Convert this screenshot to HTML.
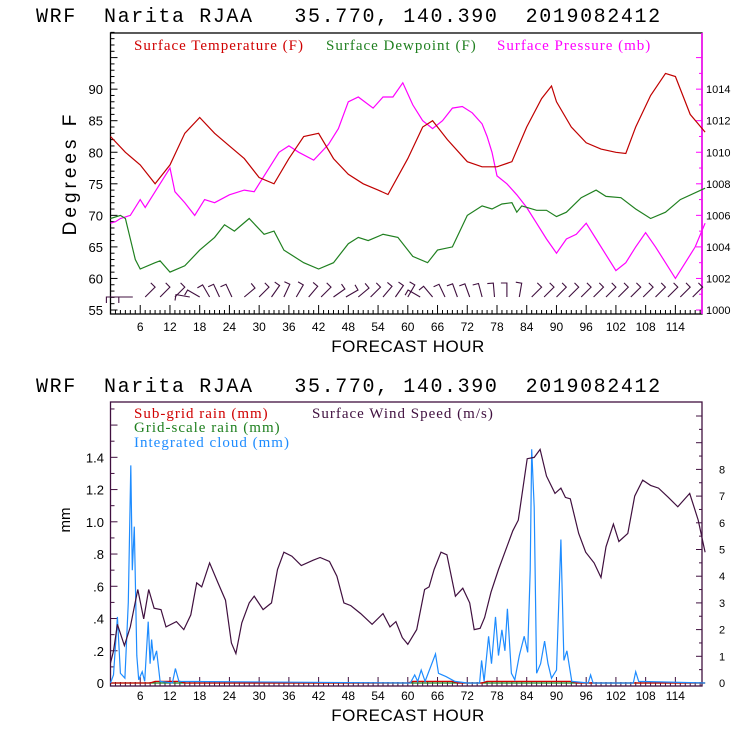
<!DOCTYPE html>
<html><head><meta charset="utf-8"><style>
html,body{margin:0;padding:0;background:#fff;}
svg{display:block;}
text{font-family:"Liberation Sans",sans-serif;}
.ttl{font-family:"Liberation Mono",monospace;white-space:pre;}
.leg{font-family:"Liberation Serif",serif;font-size:15px;letter-spacing:1px;}
</style></head><body>
<svg id="c" width="740" height="740" viewBox="0 0 740 740" xmlns="http://www.w3.org/2000/svg">
<rect width="740" height="740" fill="#fff"/>
<g id="top"></g>
<g id="bot"></g>
</svg>
<script>
// ---- data (top) ----
const tempHours=[0,3,6,9,12,15,18,21,24,27,30,33,36,39,42,45,48,51,54,56,60,63,65,68,72,75,78,81,84,87,89,90,93,96,99,102,104,106,109,112,114,117,120];
const tempVals=[82.5,80,78,75,78,83,85.5,83,81,79,76,75,79,82.5,83,79,76.5,75,74,73.3,79,84,85,82,78.5,77.7,77.7,78.5,84,88.5,90.5,88,84,81.5,80.5,80,79.8,84,89,92.5,92,86,83.2];
const dewHours=[0,2,3,5,6,9,10,12,15,18,21,23,25,28,31,33,35,39,42,45,48,50,52,55,58,61,64,66,69,72,75,77,79,81,82,83,86,88,90,92,95,98,100,103,106,109,112,115,120];
const dewVals=[69.5,70,69.5,63,61.5,62.5,62.8,61,62,64.5,66.5,68.5,67.5,69.5,67,67.5,64.5,62.5,61.5,62.5,65.5,66.5,66,67,66.5,63.5,62.5,64.5,65,70,71.5,71,71.8,72,70.5,71.5,70.8,70.8,69.8,70.5,72.8,74,73,72.8,71,69.5,70.5,72.5,74.3];
const presHours=[0,1,2,4,6,7,9,11,12,13,15,17,19,21,24,27,29,31,34,36,38,41,44,46,48,50,53,55,57,59,61,63,65,67,69,71,73,75,76,77,78,80,82,84,86,88,90,92,94,96,98,100,102,104,106,108,110,112,114,116,118,120];
const presVals=[1005.5,1005.6,1005.8,1006,1007,1006.5,1007.5,1008.5,1009,1007.5,1006.8,1006,1007,1006.8,1007.3,1007.6,1007.5,1008.5,1010,1010.4,1010,1009.5,1010.5,1011.5,1013.2,1013.5,1012.8,1013.5,1013.5,1014.4,1013,1012,1011.5,1012,1012.8,1012.9,1012.5,1011.8,1011,1010,1008.5,1008,1007.3,1006.5,1005.5,1004.5,1003.6,1004.5,1004.8,1005.5,1004.5,1003.5,1002.5,1003,1004,1004.9,1004,1003,1002,1003,1004,1005.5];
const barbHours=[2,4.5,7,10,13,16,18,20,22,24.5,27,30,32.5,35,37.5,40,42.5,45,47.5,50,52.5,55,57.5,60,62.5,65,67.5,70,72.5,75,77.5,80,82.5,85,87.5,90,92.5,95,97.5,100,102.5,105,107.5,110,112.5,115,117.5];
const barbDir=[270,270,45,45,45,280,300,330,335,335,50,45,35,25,30,40,45,55,60,50,45,40,35,30,300,320,335,340,340,345,355,0,10,45,45,45,45,45,45,45,45,45,45,45,45,45,45];
const degTicks=[55,60,65,70,75,80,85,90];
const presTicks=[1000,1002,1004,1006,1008,1010,1012,1014];
const hourTicks=[6,12,18,24,30,36,42,48,54,60,66,72,78,84,90,96,102,108,114];
// ---- data (bottom) ----
const windHours=[0,0.6,1.4,2.8,4,5.5,6.7,7.7,8.8,10.2,11.2,13.3,14.8,16.2,17.4,18.4,20,21.7,23.2,24.4,25.3,26.5,28,29,30.8,32.5,33.7,35,36.6,38.5,40.9,42.3,44.2,45.7,47.1,48.5,50.5,52.8,55,56.4,57.6,58.9,60,61.8,63.4,64.3,65.3,66.7,67.9,69.6,71.1,72.5,73.4,74.6,75.5,76.8,78.3,79.7,81.2,82.3,84.1,85.5,86.7,88,89.7,90.9,91.8,92.8,94.5,95.9,97.6,99,100,101.5,102.6,104.4,105.8,107.4,109,110.6,112.6,114.5,116.9,118.6,120];
const windVals=[0.75,1.2,2.2,1.4,2.1,3.5,2.4,3.5,2.8,2.75,2.1,2.3,2.0,2.55,3.75,3.6,4.5,3.75,3.1,1.5,1.1,2.25,3,3.25,2.75,3,4.25,4.9,4.75,4.4,4.6,4.7,4.55,4,3,2.9,2.6,2.2,2.6,2.1,2.3,1.7,1.45,2,3.5,3.6,4.25,4.9,4.8,3.25,3.55,3,2,2.05,2.45,3.4,4.25,4.95,5.7,6.1,8.4,8.45,8.75,7.75,7.1,7.3,6.95,6.9,5.6,4.9,4.5,3.95,5.1,5.95,5.3,5.6,7,7.6,7.4,7.3,6.95,6.6,7.1,6.1,4.9];
const cloudHours=[0,0.6,1.4,2,2.9,3.6,4.1,4.4,4.8,5.3,5.7,6.4,6.9,7.6,8,8.3,8.7,9.3,10,12.5,13.1,13.8,60.5,61.4,62,62.7,63.5,65.6,66.2,67.7,69.5,72,74.5,74.9,75.4,76.3,76.9,77.7,78.3,79,79.6,80.1,80.9,81.6,82.5,83.5,84.2,84.7,85,85.5,86,86.8,87.6,88.3,89,90,90.9,91.5,92.1,93.1,96.4,96.9,97.4,105.5,106,106.6,120];
const cloudVals=[0,0.05,0.41,0.06,0.03,0.5,1.35,0.7,0.97,0.17,0.02,0.07,0.01,0.38,0.12,0.27,0.14,0.2,0.01,0,0.09,0.01,0,0.05,0.01,0.08,0.01,0.18,0.06,0.04,0.01,0,0,0.14,0.01,0.29,0.12,0.41,0.17,0.33,0.2,0.46,0.06,0.02,0.17,0.29,0.19,0.7,1.45,1.09,0.06,0.12,0.26,0.12,0.03,0.08,0.89,0.14,0.2,0.01,0,0.05,0,0,0.07,0.01,0];
const subHours=[0,8,9,14,15,60,61,69,70,75,76,93,94,120];
const subVals=[0,0,0.01,0.01,0,0,0.01,0.01,0,0,0.01,0.01,0,0];
const mmTicks=[0,0.2,0.4,0.6,0.8,1.0,1.2,1.4];
const mmLabels=["0",".2",".4",".6",".8","1.0","1.2","1.4"];
const windTicks=[0,1,2,3,4,5,6,7,8];

const NS='http://www.w3.org/2000/svg';
function mk(parent,tag,attrs){const e=document.createElementNS(NS,tag);for(const k in attrs)e.setAttribute(k,attrs[k]);parent.appendChild(e);return e;}
const L=110.5,R=702,PX=4.955;
const xh=h=>L+PX*h;
const TT=33,TB=314;
const yDeg=d=>310-(d-55)*6.31;
const yPres=p=>yDeg(55+(p-1000)*2.5);
const BT=402,BB=686;
const yMM=m=>683-m*161.2;
const yWind=w=>683-w*26.7;

function txt(parent,x,y,s,attrs){const t=mk(parent,'text',Object.assign({x:x,y:y},attrs||{}));t.textContent=s;return t;}
function line(parent,x1,y1,x2,y2,stroke,w){return mk(parent,'line',{x1:x1,y1:y1,x2:x2,y2:y2,stroke:stroke,'stroke-width':w||1});}
function path(parent,hs,vs,fy,color,name){
  let d='';for(let i=0;i<hs.length;i++){d+=(i?'L':'M')+xh(hs[i]).toFixed(1)+' '+fy(vs[i]).toFixed(1);}
  const p=mk(parent,'path',{d:d,fill:'none',stroke:color,'stroke-width':1.2});
  
  
  return p;
}
const titleStr="WRF  Narita RJAA   35.770, 140.390  2019082412";

// ===== TOP =====
const topG=document.getElementById('top');
let t=txt(topG,36,22,titleStr,{'font-size':20,'class':'ttl','letter-spacing':'1.6'});

mk(topG,'rect',{x:L,y:TT,width:R-L,height:TB-TT,fill:'none',stroke:'#000','stroke-width':1.3});
line(topG,R,TT,R,TB,'#f0f',1.5);
for(let d=55;d<=99;d++){const y=yDeg(d);line(topG,L,y,L+(d%5==0?7:4),y,'#000',1);}
degTicks.forEach(d=>{const e=txt(topG,103,yDeg(d)+5,String(d),{'font-size':13,'text-anchor':'end'});});
for(let p=1000;p<=1016;p+=1){const y=yPres(p);if(y<TT)break;line(topG,R,y,R-(p%2==0?6:3),y,'#f0f',1);}
presTicks.forEach(p=>{const e=txt(topG,706,yPres(p)+4,String(p),{'font-size':11,fill:'#000'});});
for(let h=1;h<120;h++){line(topG,xh(h),TB,xh(h),TB-(h%6==0?9:4),'#000',1);}
hourTicks.forEach(h=>{const e=txt(topG,xh(h),331,String(h),{'font-size':12,'text-anchor':'middle'});});
t=txt(topG,408,352,'FORECAST HOUR',{'font-size':17,'text-anchor':'middle','letter-spacing':'0.5'});
t=txt(topG,0,0,'Degrees F',{'font-size':19,'text-anchor':'middle','letter-spacing':'4',transform:'translate(76,173) rotate(-90)'});
t=txt(topG,134,50,'Surface Temperature (F)',{'class':'leg',fill:'#d00000'});
t=txt(topG,326,50,'Surface Dewpoint (F)',{'class':'leg',fill:'#208020'});
t=txt(topG,497,50,'Surface Pressure (mb)',{'class':'leg',fill:'#f0f'});
path(topG,presHours,presVals,yPres,'#f0f','pressure-line');
path(topG,tempHours,tempVals,yDeg,'#c00000','temperature-line');
path(topG,dewHours,dewVals,yDeg,'#208020','dewpoint-line');
const bg=mk(topG,'g',{});

barbHours.forEach((h,i)=>{
  const a=barbDir[i]*Math.PI/180, x0=xh(h), y0=297;
  const dx=Math.sin(a), dy=-Math.cos(a), len=14;
  const x1=x0+dx*len, y1=y0+dy*len;
  const b=mk(bg,'path',{d:`M${x0.toFixed(1)} ${y0} L${x1.toFixed(1)} ${y1.toFixed(1)} L${(x1+dy*6).toFixed(1)} ${(y1-dx*6).toFixed(1)}`,fill:'none',stroke:'#40103f','stroke-width':1.1});
  
  
});

// ===== BOTTOM =====
const botG=document.getElementById('bot');
t=txt(botG,36,392,titleStr,{'font-size':20,'class':'ttl','letter-spacing':'1.6'});

mk(botG,'rect',{x:L,y:BT,width:R-L,height:BB-BT,fill:'none',stroke:'#40103f','stroke-width':1.3});
for(let i=0;i<=17;i++){const y=yMM(i/10);if(y<BT)break;line(botG,L,y,L+(i%2==0?7:4),y,'#40103f',1);}
mmTicks.forEach((m,i)=>{const e=txt(botG,104,yMM(m)+5,mmLabels[i],{'font-size':13,'text-anchor':'end'});});
for(let w=0;w<=10.4;w+=0.5){const y=yWind(w);if(y<BT)break;line(botG,R,y,R-(w%1==0?6:3),y,'#40103f',1);}
windTicks.forEach(w=>{const e=txt(botG,719,yWind(w)+4,String(w),{'font-size':11});});
for(let h=1;h<120;h++){line(botG,xh(h),BB,xh(h),BB-(h%6==0?9:4),'#40103f',1);}
hourTicks.forEach(h=>{const e=txt(botG,xh(h),700,String(h),{'font-size':12,'text-anchor':'middle'});});
t=txt(botG,408,721,'FORECAST HOUR',{'font-size':17,'text-anchor':'middle','letter-spacing':'0.5'});
t=txt(botG,0,0,'mm',{'font-size':15,'text-anchor':'middle',transform:'translate(70,520) rotate(-90)'});
t=txt(botG,134,418,'Sub-grid rain (mm)',{'class':'leg',fill:'#d00000'});
t=txt(botG,312,418,'Surface Wind Speed (m/s)',{'class':'leg',fill:'#40103f'});
t=txt(botG,134,432,'Grid-scale rain (mm)',{'class':'leg',fill:'#208020'});
t=txt(botG,134,447,'Integrated cloud (mm)',{'class':'leg',fill:'#1e8cff'});
path(botG,[0,120],[0,0],yMM,'#208020','gridscale-rain-line');
path(botG,subHours,subVals,yMM,'#d00000','subgrid-rain-line');
path(botG,cloudHours,cloudVals,yMM,'#1e8cff','cloud-line');
path(botG,windHours,windVals,yWind,'#40103f','wind-speed-line');
</script>
</body></html>
